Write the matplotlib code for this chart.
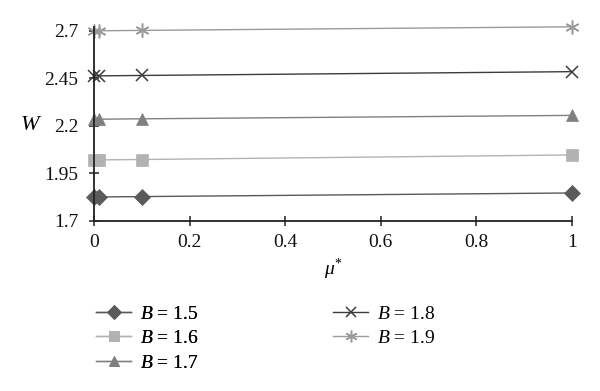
import matplotlib
matplotlib.use("Agg")
import matplotlib.pyplot as plt

mu = [0, 0.01, 0.1, 1]
W_15 = [1.826, 1.826, 1.828, 1.847]
W_16 = [2.021, 2.021, 2.023, 2.047]
W_17 = [2.235, 2.235, 2.237, 2.255]
W_18 = [2.463, 2.463, 2.465, 2.485]
W_19 = [2.700, 2.700, 2.702, 2.721]
labels = ["$B$ = 1.5", "$B$ = 1.6", "$B$ = 1.7", "$B$ = 1.8", "$B$ = 1.9"]
yticks = [1.7, 1.95, 2.2, 2.45, 2.7]
xticks = [0, 0.2, 0.4, 0.6, 0.8, 1]

plt.rcParams['font.family'] = ['Liberation Serif', 'DejaVu Serif']
plt.rcParams['mathtext.fontset'] = 'custom'
plt.rcParams['mathtext.it'] = 'Liberation Serif:italic'
plt.rcParams['mathtext.rm'] = 'Liberation Serif'

fig = plt.figure(figsize=(6, 3.91), dpi=100)
ax = fig.add_axes([0.157, 0.435, 0.796, 0.496])

styles = [
    (W_15, '#5a5a5a', 'D', 8),
    (W_16, '#b2b2b2', 's', 9),
    (W_17, '#808080', '^', 9),
    (W_18, '#3c3c3c', 'x', 9),
    (W_19, '#9a9a9a', (6, 2, 0), 10),
]
handles = []
for (vals, c, m, ms), lab in zip(styles, labels):
    h, = ax.plot(mu, vals, color=c, marker=m, markersize=ms, linewidth=1.0,
                 markeredgewidth=1.1 if m in ('x',) or isinstance(m, tuple) else 0.5,
                 markeredgecolor=c, label=lab, clip_on=False)
    handles.append(h)

ax.set_xlim(0, 1)
ax.set_ylim(1.7, 2.72)
ax.set_xticks(xticks)
ax.set_xticklabels(["0", "0.2", "0.4", "0.6", "0.8", "1"])
ax.set_yticks(yticks)
ax.set_yticklabels(["1.7", "1.95", "2.2", "2.45", "2.7"])
for s in ['top', 'right']:
    ax.spines[s].set_visible(False)
for s in ['left', 'bottom']:
    ax.spines[s].set_linewidth(1.3)
    ax.spines[s].set_color('#222222')
ax.tick_params(axis='both', labelsize=14, direction='inout', length=7, width=1.1,
               colors='#222222', labelcolor='#111111')
ax.tick_params(axis='y', pad=8)
ax.tick_params(axis='x', pad=6)

fig.text(0.052, 0.68, "$W$", fontsize=16, ha='center', va='center')
fig.text(0.555, 0.31, r"$\mu^{*}$", fontsize=14, ha='center', va='center')

common = dict(loc='upper left', frameon=False, fontsize=14, handlelength=1.8,
              labelspacing=0.36, handletextpad=0.45, borderaxespad=0, borderpad=0,
              markerscale=0.85)
leg1 = fig.legend(handles[:3], labels[:3], **common)
leg1.set_bbox_to_anchor((0.16, 0.22), transform=fig.transFigure)
leg2 = fig.legend(handles[3:], labels[3:], **common)
leg2.set_bbox_to_anchor((0.555, 0.22), transform=fig.transFigure)
fig.add_artist(leg1)

fig.savefig("out.png", dpi=100)
